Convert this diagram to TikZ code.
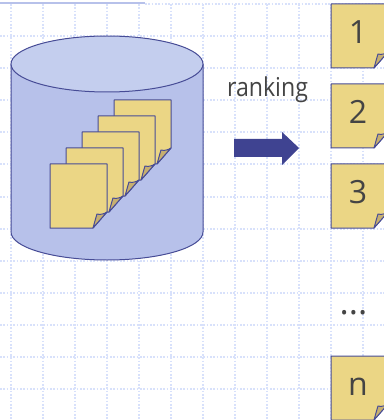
\documentclass[tikz,border=0pt]{standalone}
\usepackage{fontspec}
\setmainfont{Open Sans}
\newfontfamily\narrowfont[FakeStretch=0.89]{Open Sans}
\definecolor{gridblue}{HTML}{D8E1FB}
\definecolor{edgeblue}{HTML}{474C96}
\definecolor{bodyblue}{HTML}{B7C1EA}
\definecolor{topblue}{HTML}{C4CEEE}
\definecolor{sheetyellow}{HTML}{EBD685}
\definecolor{foldtan}{HTML}{C6AF70}
\definecolor{arrowblue}{HTML}{3F4391}
\definecolor{textgrey}{HTML}{444444}
\tikzset{
	gridline/.style={gridblue, line width=1.3pt, dash pattern=on 1.3pt off 1.2pt},
	outline/.style={draw=edgeblue, line width=0.75pt, line join=round},
	label/.style={text=textgrey, anchor=base, inner sep=0pt},
	pics/sheet/.style={code={
		\draw[outline, fill=sheetyellow] (0, 0) -- (57, 0) -- (57, 48) -- (43, 64) -- (0, 64) -- cycle;
		\draw[outline, fill=foldtan] (43, 64) .. controls (45, 57) and (46, 53) .. (47, 50) .. controls (50, 51) and (54, 50) .. (57, 48) -- cycle;
	}}
}
\begin{document}
\begin{tikzpicture}[x=0.75pt, y=-0.75pt]

\useasboundingbox (0, 0) rectangle (384, 420);
\clip (0, 0) rectangle (384, 420);

% background grid
\foreach \x in {11, 43, ..., 363}
	\draw[gridline] (\x, 4) -- (\x, 420);
\foreach \y in {36, 68, 100, 132, 164, 197, 229, 261, 293, 325, 357, 389}
	\draw[gridline] (0, \y) -- (384, \y);
\draw[gridline] (145, 4) -- (384, 4);
\draw[line width=0.9pt, color=bodyblue] (0, 3) -- (145, 3);

% cylinder
\draw[outline, fill=bodyblue] (11, 64) -- (11, 232) arc[start angle=180, end angle=0, x radius=96, y radius=28] -- (203, 64) -- cycle;
\draw[outline, fill=topblue] (107, 64) ellipse[x radius=96, y radius=28];

% sheets inside the cylinder
\foreach \x/\y in {114/100, 98/116, 82/132, 66/148, 50/164}
	\pic at (\x, \y) {sheet};

% ranked sheets
\foreach \y/\text/\name in {
	4/1/one,
	84/2/two,
	164/3/three,
	356/n/last}
{
	\pic at (331, \y) {sheet};
	\node[label, font=\fontsize{24}{24}\selectfont] (\name) at (358, \y + 39.5) {\text};
}

\node[label, font=\narrowfont\fontsize{19.5}{19.5}\selectfont] (ranking) at (267.5, 97) {ranking};
\node[label, font=\fontsize{26}{26}\selectfont] (dots) at (353.5, 314) {...};

% arrow
\fill[arrowblue] (234, 139) -- (282, 139) -- (282, 132) -- (299, 148) -- (282, 165) -- (282, 157) -- (234, 157) -- cycle;

\end{tikzpicture}
\end{document}
